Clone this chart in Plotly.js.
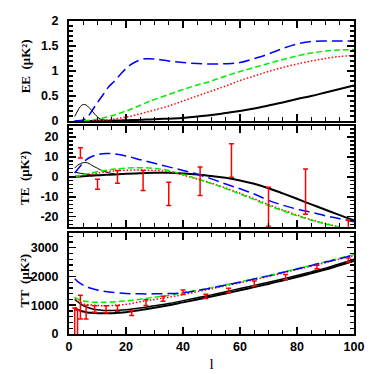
<!DOCTYPE html>
<html><head><meta charset="utf-8">
<script src="https://cdn.plot.ly/plotly-3.0.1.min.js"></script>
<style>html,body{margin:0;padding:0;background:#fff}#chart{width:374px;height:374px}</style>
</head><body><div id="chart"></div>
<script>
// ---------- EE panel ----------
const lEE = [2,4,6,8,10,12,14,16,18,20,22,24,26,28,30,35,40,45,50,55,60,65,70,75,80,85,90,95,100];
const eeBlue  = [0.0,0.01,0.05,0.2,0.37,0.53,0.69,0.8,0.93,1.05,1.14,1.2,1.24,1.245,1.24,1.2,1.17,1.15,1.14,1.145,1.17,1.25,1.34,1.45,1.54,1.59,1.6,1.6,1.6];
const eeGreen = [0,0.005,0.01,0.02,0.04,0.06,0.09,0.12,0.16,0.2,0.24,0.29,0.34,0.39,0.43,0.53,0.63,0.72,0.8,0.9,0.99,1.07,1.15,1.23,1.3,1.36,1.4,1.42,1.43];
const eeRed   = [0,0,0.002,0.005,0.01,0.015,0.025,0.04,0.06,0.08,0.1,0.13,0.16,0.19,0.22,0.3,0.4,0.5,0.6,0.7,0.81,0.9,0.99,1.07,1.14,1.2,1.25,1.29,1.31];
const eeBlack = [0,0,0.001,0.002,0.003,0.005,0.007,0.009,0.012,0.015,0.018,0.022,0.026,0.03,0.035,0.047,0.06,0.09,0.12,0.16,0.2,0.25,0.31,0.37,0.44,0.5,0.57,0.64,0.71];
const lEEbump = [2,3,4,5,6,7,8,9,10,11,12,14,16];
const eeBump  = [0.09,0.2,0.29,0.33,0.32,0.27,0.21,0.14,0.08,0.04,0.02,0.01,0.005];

// ---------- TE panel ----------
const lTE = [2,4,6,8,10,13,16,20,25,30,35,40,45,50,55,60,65,70,75,80,85,90,95,100];
const teBlue  = [1.9,5.5,8.5,10.2,11.1,11.7,11.5,10.5,8.6,6.8,5.0,3.2,1.3,-1.0,-3.6,-6.0,-8.6,-11.8,-14.2,-16.2,-17.8,-19.5,-21,-22.5];
const teGreen = [0,0.7,1.4,2.0,2.6,3.3,3.9,4.4,4.6,4.2,3.2,1.2,-1.0,-3.3,-5.9,-8.6,-11.4,-14.4,-17.0,-19.5,-21.7,-23.6,-25.2,-26.5];
const teRed   = [0,0.4,0.9,1.4,1.9,2.5,3.0,3.3,3.4,3.2,2.6,0.9,-1.1,-3.2,-5.6,-8.2,-11.0,-13.9,-16.6,-19.1,-21.5,-23.4,-25.3,-27];
const teBlack = [0,0.2,0.4,0.6,0.8,1.0,1.2,1.5,1.8,2.0,2.0,1.7,1.2,0.4,-0.5,-1.8,-3.5,-5.7,-8.3,-11.0,-13.8,-16.5,-19.2,-21.8];
const lTEbump = [2,3,4,5,6,7,8,10,12,14,16];
const teBump  = [4.4,5.8,6.6,7.1,7.2,6.7,5.8,4.3,2.9,2.0,1.5];
const lTEbump2 = [2,4,6,8,10];
const teBump2  = [2.3,1.8,1.3,0.9,0.8];
const lTEdata = [4,10,17,26,35,46,57,70,83,98];
const teData  = [12,-3.7,0,-1.85,-8.55,-2.25,8.2,-15,-7.45,-30];
const teErr   = [2.6,2.5,3.2,5.05,5.85,7.15,8.4,9.8,11.35,8.3];

// ---------- TT panel ----------
const lTT = [2,3,4,5,6,8,10,12,15,20,25,30,35,40,45,50,55,60,65,70,75,80,85,90,95,100];
const ttBlue  = [1918,1830,1760,1700,1650,1580,1530,1490,1450,1410,1395,1395,1405,1430,1510,1600,1700,1800,1910,2020,2140,2260,2380,2500,2620,2750];
const ttGreen = [1277,1220,1180,1150,1135,1110,1100,1100,1115,1150,1210,1280,1350,1440,1520,1610,1710,1810,1920,2030,2150,2270,2390,2510,2635,2760];
const ttRed   = [1230,1150,1090,1050,1030,1010,990,985,990,1030,1120,1200,1280,1370,1470,1570,1675,1780,1890,2000,2120,2240,2360,2480,2605,2730];
const ttBlackA= [1200,1120,1050,990,940,880,840,820,815,840,900,980,1060,1160,1260,1360,1470,1580,1690,1800,1915,2030,2160,2290,2440,2600];
const ttBlackB= [900,850,810,780,760,735,725,720,725,760,830,910,1000,1100,1200,1300,1410,1520,1630,1740,1860,1980,2110,2240,2390,2540];
const lTTdata = [2,3,4,6,9,13,17,22,27,33,40,48,56,65,76,87,98];
const ttData  = [400,350,935,755,870,860,890,730,1090,1225,1450,1310,1510,1760,1980,2330,2570];
const ttErr   = [500,480,410,235,115,125,100,90,100,85,80,75,80,80,90,60,70];

// tick labels
const eeTicks = [0,0.5,1,1.5,2];
const eeTickText = ['0','0.5','1','1.5','2'];
const teTicks = [-20,-10,0,10,20];
const teTickText = ['-20','-10','0','10','20'];
const ttTicks = [0,1000,2000,3000];
const ttTickText = ['0','1000','2000','3000'];
const yTitles = ['EE  (μK²)','TE  (μK²)','TT  (μK²)'];

const blueLine  = {color:'#0000ff', width:1.5, dash:'11px,5px', shape:'spline'};
const greenLine = {color:'#00ee00', width:1.5, dash:'6px,3px', shape:'spline'};
const redLine   = {color:'#ff0000', width:1.5, dash:'1.5px,2px', shape:'spline'};
const blackLine = {color:'#000000', width:2, shape:'spline'};
const thinLine  = {color:'#000000', width:1, shape:'spline'};

function ln(x,y,line,xa,ya){return {x:x,y:y,mode:'lines',line:line,xaxis:xa,yaxis:ya,hoverinfo:'skip',showlegend:false};}
function bars(x,y,e,xa,ya){return {x:x,y:y,mode:'markers',marker:{size:1,color:'rgba(0,0,0,0)'},
  error_y:{type:'data',array:e,visible:true,color:'#ff0000',thickness:1.5,width:2.5},xaxis:xa,yaxis:ya,showlegend:false,hoverinfo:'skip'};}

const data = [
  ln(lEE,eeBlack,blackLine,'x','y'),
  ln(lEEbump,eeBump,thinLine,'x','y'),
  ln(lEE,eeRed,redLine,'x','y'),
  ln(lEE,eeGreen,greenLine,'x','y'),
  ln(lEE,eeBlue,blueLine,'x','y'),

  ln(lTE,teBlack,blackLine,'x2','y2'),
  ln(lTEbump,teBump,thinLine,'x2','y2'),
  ln(lTEbump2,teBump2,thinLine,'x2','y2'),
  ln(lTE,teRed,redLine,'x2','y2'),
  ln(lTE,teGreen,greenLine,'x2','y2'),
  ln(lTE,teBlue,blueLine,'x2','y2'),
  bars(lTEdata,teData,teErr,'x2','y2'),

  ln(lTT,ttBlackB,blackLine,'x3','y3'),
  ln(lTT,ttBlackA,{color:'#000',width:1.5,shape:'spline'},'x3','y3'),
  ln(lTT,ttRed,redLine,'x3','y3'),
  ln(lTT,ttGreen,greenLine,'x3','y3'),
  ln(lTT,ttBlue,blueLine,'x3','y3'),
  bars(lTTdata,ttData,ttErr,'x3','y3')
];

const tickFont = {family:'Liberation Sans, Arial, sans-serif', size:12.5, color:'#000', weight:'bold'};
const titleFont = {family:'Liberation Serif, Times New Roman, serif', size:13, color:'#000', weight:'bold'};

function xax(anchor, labels){
  return {anchor:anchor, range:[0,100], dtick:20, tick0:0, ticks:'inside', ticklen:7, tickwidth:1.5, tickcolor:'#000',
    showline:true, linewidth:2, linecolor:'#000', mirror:'allticks', showgrid:false, zeroline:false,
    showticklabels:labels, tickfont:tickFont,
    minor:{dtick:5, tick0:0, ticks:'inside', ticklen:4, tickwidth:1.2, tickcolor:'#000', showgrid:false}};
}
function yax(anchor, domain, range, tv, tt, mdtick){
  return {anchor:anchor, domain:domain, range:range, tickvals:tv, ticktext:tt, ticks:'inside', ticklen:7, tickwidth:1.5, tickcolor:'#000',
    showline:true, linewidth:2, linecolor:'#000', mirror:'allticks', showgrid:false, zeroline:false,
    tickfont:tickFont, ticklabelstandoff:6,
    minor:{dtick:mdtick, tick0:0, ticks:'inside', ticklen:4, tickwidth:1.2, tickcolor:'#000', showgrid:false}};
}

const titleX = (25-69)/285;
const doms = [[0.6805,1],[0.3428,0.6645],[0,0.3217]];
const annotations = yTitles.map((t,i)=>({
  text:t, xref:'paper', yref:'paper', x:titleX, y:(doms[i][0]+doms[i][1])/2 + (i===0?0.015:(i===2?0.01:-0.005)),
  xanchor:'center', yanchor:'middle', textangle:-90, showarrow:false, font:titleFont
}));

const layout = {
  width:374, height:374,
  margin:{l:69, r:20, t:21, b:40},
  paper_bgcolor:'#fff', plot_bgcolor:'#fff',
  showlegend:false,
  xaxis: xax('y', false),
  xaxis2: Object.assign(xax('y2', false), {matches:'x'}),
  xaxis3: Object.assign(xax('y3', true), {title:{text:'l', font:{family:'Liberation Serif, serif', size:15, color:'#000'}, standoff:5}}),
  yaxis: yax('x', doms[0], [0,2], eeTicks, eeTickText, 0.1),
  yaxis2: yax('x2', doms[1], [-25,25.5], teTicks, teTickText, 2),
  yaxis3: yax('x3', doms[2], [0,3500], ttTicks, ttTickText, 200),
  annotations: annotations
};

Plotly.newPlot('chart', data, layout, {staticPlot:true, displayModeBar:false});
</script></body></html>
